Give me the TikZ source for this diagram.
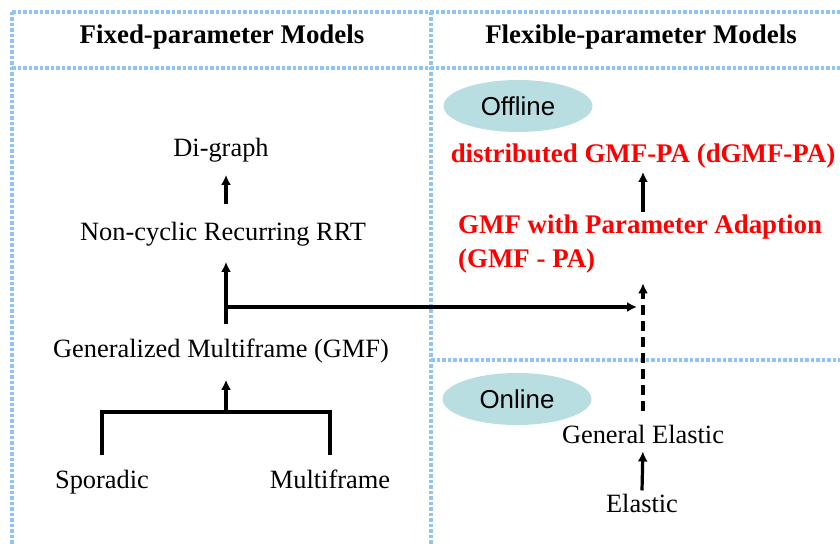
\documentclass[tikz,border=0pt]{standalone}
\usepackage{fontspec}
\setmainfont{Liberation Serif}
\newfontfamily\sansfont{Liberation Sans}
\usetikzlibrary{arrows.meta,shapes}
\definecolor{gridblue}{RGB}{145,196,245}
\definecolor{bubble}{RGB}{184,222,226}
\tikzstyle{gridline}=[draw=gridblue,line width=3.5bp,dash pattern=on 3.5bp off 2bp]
\tikzstyle{model}=[font=\fontsize{26.5}{30}\selectfont,inner sep=3bp,anchor=base]
\tikzstyle{head}=[font=\fontsize{27}{30}\selectfont\bfseries,inner sep=3bp,anchor=base]
\tikzstyle{adapt}=[font=\fontsize{27}{34}\selectfont\bfseries,text=red,inner sep=3bp,anchor=base]
\tikzstyle{mode}=[ellipse,fill=bubble,minimum width=149bp,minimum height=52bp,inner sep=0pt,font=\sansfont\fontsize{26}{30}\selectfont]
\tikzstyle{edge}=[draw,line width=3.2bp,-{Latex[length=10bp,width=10bp]}]
\tikzstyle{branch}=[draw,line width=3.2bp]

\begin{document}
\begin{tikzpicture}[x=1bp,y=-1bp]
    \useasboundingbox (0,0) rectangle (840,544);
    % Table grid
    \foreach \from/\to in {{(12,12)/(840,12)}, {(12,68)/(840,68)}, {(12,12)/(12,544)},
                           {(431,12)/(431,544)}, {(431,360)/(840,360)}}
        \path[gridline] \from -- \to;
    % Headers
    \node[head] (fixed) at (222,44) {Fixed-parameter Models};
    \node[head] (flex) at (641,44) {Flexible-parameter Models};
    % Models in black
    \foreach \pos/\name/\lbl in {{(221,157)/dg/Di-graph}, {(223,241)/rrt/Non-cyclic Recurring RRT},
                                 {(221,357)/gmf/Generalized Multiframe (GMF)},
                                 {(102,488)/spo/Sporadic}, {(330,488)/mf/Multiframe},
                                 {(643,443)/ge/General Elastic}, {(642,512)/el/Elastic}}
        \node[model] (\name) at \pos {\lbl};
    % Models with parameter adaption
    \node[adapt] (dgmf) at (643,163) {distributed GMF-PA (dGMF-PA)};
    \node[adapt,anchor=west,align=left] (gmfpa) at (455,244) {GMF with Parameter Adaption\\(GMF - PA)};
    \node[mode] (off) at (518,106) {Offline};
    \node[mode] (on) at (517,399) {Online};
    % Edges
    \coordinate (stem) at (226,412);
    \coordinate (fork) at (226,307);
    \path[edge,shorten <=15bp,shorten >=9bp] (rrt.north -| stem) -- (dg.south -| stem);
    \path[edge,shorten <=11bp,shorten >=12bp] (gmf.north -| stem) -- (rrt.south -| stem);
    \path[edge,shorten >=14bp] (stem) -- (gmf.south -| stem);
    \path[branch,shorten <=11bp,shorten >=11bp] (spo.north) -- (spo.north |- stem) -- (mf.north |- stem) -- (mf.north);
    \path[edge,shorten >=6bp] (fork) -- (fork -| ge.north);
    \path[edge,dash pattern=on 10bp off 6bp,shorten <=10bp,shorten >=7bp] (ge.north) -- (ge.north |- gmfpa.south);
    \path[edge,shorten >=5bp] (el.north) -- (ge.south);
    \path[edge] (gmfpa.north -| dgmf.south) -- (dgmf.south);
\end{tikzpicture}
\end{document}
